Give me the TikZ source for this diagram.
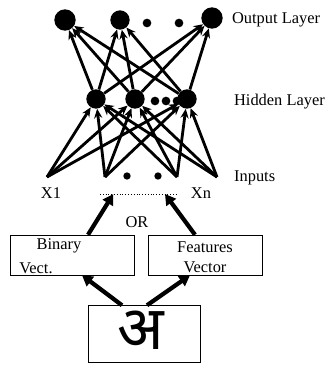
\documentclass[tikz,border=0pt]{standalone}
\usepackage{fontspec}
\setmainfont{Liberation Serif}
\newfontfamily\devafont[Script=Devanagari]{Noto Sans}
\usetikzlibrary{arrows.meta,positioning}
\tikzset{
    % neurons
    bigneuron/.style={circle, fill=black, inner sep=0pt, minimum size=0.64cm},
    midneuron/.style={circle, fill=black, inner sep=0pt, minimum size=0.58cm},
    dotneuron/.style={circle, fill=black, inner sep=0pt, minimum size=0.26cm},
    weight/.style={line width=2.4pt, -{Stealth[length=8pt,width=7pt]}},
    bigarrow/.style={line width=3.6pt, -{Triangle[length=9pt,width=10pt]}},
    inbox/.style={rectangle, draw, thin, inner sep=2pt},
    layertext/.style={anchor=west, font=\fontsize{14}{16}\selectfont},
    boxtext/.style={font=\fontsize{14}{15}\selectfont, inner sep=0pt}
}
\begin{document}
\begin{tikzpicture}[x=0.03cm, y=-0.03cm]
\useasboundingbox (0,0) rectangle (333,366);

% Output layer
\node[bigneuron] (o1) at (65,20) {};
\node[midneuron] (o2) at (120,20) {};
\node[dotneuron] (od1) at (147,23) {};
\node[dotneuron] (od2) at (179,23) {};
\node[bigneuron] (o3) at (212,18) {};

% Hidden layer
\node[midneuron] (h1) at (96,99) {};
\node[midneuron] (h2) at (135,99) {};
\node[dotneuron] (hd1) at (155,101) {};
\node[dotneuron] (hd2) at (166,101) {};
\node[dotneuron] (hd3) at (177,101) {};
\node[midneuron] (h3) at (187,99) {};

% Inputs
\coordinate (x1) at (47,177);
\coordinate (x2) at (105,177);
\node[dotneuron, minimum size=0.22cm] (xd1) at (127,176) {};
\node[dotneuron, minimum size=0.22cm] (xd2) at (158,176) {};
\coordinate (x3) at (177,177);
\coordinate (x4) at (217,177);

% Weights
\foreach \i in {x1,x2,x3,x4}
  \foreach \j in {h1,h2,h3}
    \draw[weight] (\i) -- (\j);
\foreach \i in {h1,h2,h3}
  \foreach \j in {o1,o2,o3}
    \draw[weight] (\i) -- (\j);

% Layer names
\node[layertext] (outlbl) at (228,20) {Output Layer};
\node[layertext] (hidlbl) at (230,102) {Hidden Layer};
\node[layertext] (inlbl) at (230,178) {Inputs};
\node[boxtext] (x1lbl) at (51,193) {X1};
\node[boxtext] (xnlbl) at (201,193) {Xn};

% Input vector
\coordinate (vl) at (100,194);
\coordinate (vr) at (177,194);
\draw[dotted, thin] (vl) -- (vr);
\node[boxtext] (orlbl) at (137,222) {OR};

% Representations
\node[inbox, minimum width=3.72cm, minimum height=1.2cm] (binbox) at (72,255) {};
\node[boxtext] at (59,246) {Binary};
\node[boxtext] at (36,268) {Vect.};
\node[inbox, minimum width=3.42cm, minimum height=1.2cm] (featbox) at (205,255) {};
\node[boxtext] at (205,247) {Features};
\node[boxtext] at (205,267) {Vector};

% Character image
\node[inbox, minimum width=3.36cm, minimum height=1.71cm] (charbox) at (144,334) {};
\node[inner sep=0pt, font=\devafont\fontsize{52}{52}\selectfont] (chr) at (141,330) {अ};

\coordinate (c1) at ([xshift=-0.66cm]charbox.north);
\coordinate (c2) at ([xshift=0.09cm]charbox.north);
\draw[bigarrow] (c1) -- ([xshift=0.3cm]binbox.south);
\draw[bigarrow] (c2) -- ([xshift=-0.45cm]featbox.south);
\draw[bigarrow] ([xshift=0.48cm]binbox.north) -- ([xshift=0.4cm]vl);
\draw[bigarrow] ([xshift=-0.3cm]featbox.north) -- ([xshift=-0.36cm]vr);
\end{tikzpicture}
\end{document}
